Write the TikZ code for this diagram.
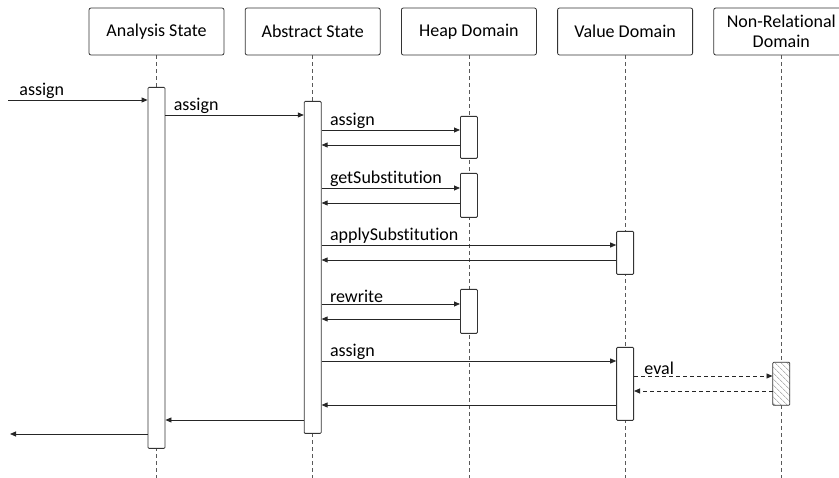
\documentclass[tikz,border=0pt]{standalone}
\usepackage{fontspec}
\setmainfont{Carlito}[Ligatures=NoCommon]
\usetikzlibrary{arrows.meta,positioning,patterns.meta}

\begin{document}
\begin{tikzpicture}[x=1pt, y=-1pt, node distance=20.4pt, every node/.style={font=\fontsize{18}{20}\selectfont, align=center}, header/.style={rectangle, rounded corners=2pt, draw=black!80, line width=0.8pt, minimum width=135pt, minimum height=47pt, inner sep=0pt}, lifeline/.style={draw=black!65, line width=0.8pt, dash pattern=on 4pt off 3pt}, act/.style={rectangle, rounded corners=1pt, draw=black!80, fill=white, line width=0.8pt, minimum width=17pt, inner sep=0pt, anchor=north}, msg/.style={draw=black!85, line width=0.8pt, -{Triangle[length=6pt,width=5pt]}}, lbl/.style={anchor=south west, inner sep=1pt, xshift=7pt}]
\useasboundingbox (0,0) rectangle (839,478);
\clip (0,0) rectangle (839,478);
% participants
\node[header] (ana) at (156.5,31.5) {Analysis State};
\node[header, right=of ana] (abs) {Abstract State};
\node[header, right=of abs] (heap) {Heap Domain};
\node[header, right=of heap] (val) {Value Domain};
\node[header, right=of val] (nonrel) {Non-Relational\\Domain};
\foreach \p in {ana,abs,heap,val,nonrel}
  \draw[lifeline] (\p) -- (\p |- 0,478);
% activations
\node[act, minimum height=361pt] (actAna) at (ana |- 0,87) {};
\node[act, minimum height=332pt] (actAbs) at (abs |- 0,101) {};
\node[act, minimum height=42pt] (heapA) at (heap |- 0,116) {};
\node[act, minimum height=44pt] (heapB) at (heap |- 0,173) {};
\node[act, minimum height=43pt] (valA) at (val |- 0,231) {};
\node[act, minimum height=44pt] (heapC) at (heap |- 0,289) {};
\node[act, minimum height=73pt] (valB) at (val |- 0,347) {};
\node[act, minimum height=43pt, preaction={fill=white}, pattern={Lines[angle=-45,distance=4pt,line width=0.6pt]}, pattern color=black!45] (nonrelA) at (nonrel |- 0,362) {};
\coordinate (caller) at (8,100);
\coordinate (back) at (10,434);
% calls
\draw[msg] (caller) -- (actAna.west |- caller) node[lbl, pos=0, xshift=3pt] {assign};
\draw[msg] (actAna.east |- 0,115) -- (actAbs.west |- 0,115) node[lbl, pos=0] {assign};
\draw[msg] (actAbs.east |- 0,130) -- (heapA.west |- 0,130) node[lbl, pos=0] {assign};
\draw[msg] (heapA.west |- 0,145) -- (actAbs.east |- 0,145);
\draw[msg] (actAbs.east |- 0,188) -- (heapB.west |- 0,188) node[lbl, pos=0] {getSubstitution};
\draw[msg] (heapB.west |- 0,203) -- (actAbs.east |- 0,203);
\draw[msg] (actAbs.east |- 0,245) -- (valA.west |- 0,245) node[lbl, pos=0] {applySubstitution};
\draw[msg] (valA.west |- 0,260) -- (actAbs.east |- 0,260);
\draw[msg] (actAbs.east |- 0,304) -- (heapC.west |- 0,304) node[lbl, pos=0] {rewrite};
\draw[msg] (heapC.west |- 0,319) -- (actAbs.east |- 0,319);
\draw[msg] (actAbs.east |- 0,361) -- (valB.west |- 0,361) node[lbl, pos=0] {assign};
\draw[msg, dash pattern=on 4pt off 3pt] (valB.east |- 0,376) -- (nonrelA.west |- 0,376) node[lbl, pos=0, xshift=2pt] {eval};
\draw[msg, dash pattern=on 4pt off 3pt] (nonrelA.west |- 0,391) -- (valB.east |- 0,391);
% returns
\draw[msg] (valB.west |- 0,405) -- (actAbs.east |- 0,405);
\draw[msg] (actAbs.west |- 0,420) -- (actAna.east |- 0,420);
\draw[msg] (actAna.west |- back) -- (back);
\end{tikzpicture}
\end{document}
